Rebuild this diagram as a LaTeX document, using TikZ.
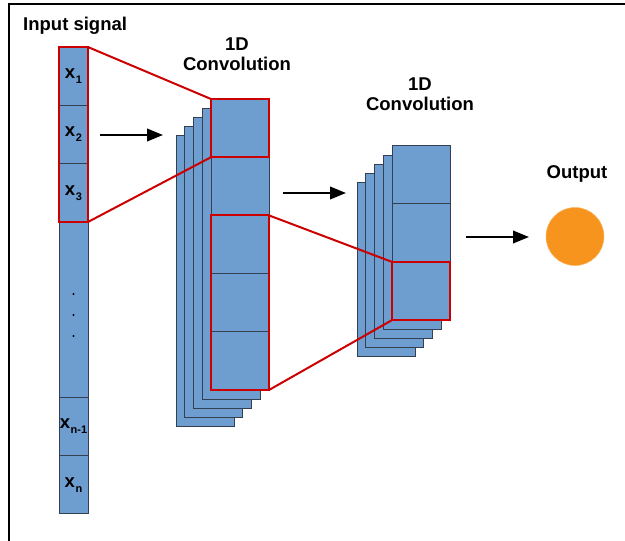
\documentclass[tikz,border=0pt]{standalone}
\usepackage{fontspec}
\setmainfont{Liberation Sans}
\usepackage{tikz}
\usetikzlibrary{arrows.meta}

\definecolor{cellblue}{RGB}{110,157,208}
\definecolor{celledge}{RGB}{52,64,82}
\definecolor{boxred}{RGB}{204,0,0}
\definecolor{outorange}{RGB}{247,148,29}

\newcommand{\xsub}[1]{x\kern0.6pt\raisebox{-5pt}{\fontsize{11}{11}\selectfont #1}}

\tikzset{
  cell/.style={draw=celledge, fill=cellblue, line width=1pt, inner sep=0pt, outer sep=0pt,
    font=\bfseries\fontsize{18.5}{18.5}\selectfont},
  incell/.style={cell, minimum width=29pt, minimum height=58.3pt},
  convcell/.style={cell, minimum width=58pt, minimum height=58.2pt},
  layer/.style={cell, minimum width=58pt},
  redbox/.style={draw=boxred, line width=2pt},
  redline/.style={boxred, line width=2pt},
  flow/.style={line width=2.2pt, -{Triangle[length=16pt, width=12.5pt]}},
  title/.style={font=\bfseries\fontsize{18.5}{20.5}\selectfont, align=center, inner sep=0pt},
  frame/.style={line width=1.6pt}
}

\begin{document}
\begin{tikzpicture}[x=1pt, y=-1pt]
\useasboundingbox (0,0) rectangle (625,541);
\draw[frame] (9,541) -- (9,4) -- (625,4);

\node[title, anchor=base west] (intitle) at (23,30) {Input signal};
\node[title] (c1title) at (237,54) {1D\\Convolution};
\node[title] (c2title) at (420,94) {1D\\Convolution};
\node[title, anchor=base] (outtitle) at (577,178) {Output};

% input signal
\node[incell] (in1) at (73.5,76.2) {\xsub{1}};
\node[incell] (in2) at (73.5,134.5) {\xsub{2}};
\node[incell] (in3) at (73.5,192.8) {\xsub{3}};
\node[incell, minimum height=175pt] (indots) at (73.5,309.5) {};
\node[incell] (in4) at (73.5,426.3) {\xsub{n-1}};
\node[incell] (in5) at (73.5,484.8) {\xsub{n}};
\foreach \y in {294,315,336}
  \fill (73.5,\y) circle (1.1pt);

% first convolution
\foreach \k in {4,3,2,1}
  \node[layer, minimum height=291pt] (c1back\k) at (240-8.7*\k,244.5+9*\k) {};
\node[convcell] (c1a) at (240,128.1) {};
\node[convcell] (c1b) at (240,186.3) {};
\node[convcell] (c1c) at (240,244.5) {};
\node[convcell] (c1d) at (240,302.7) {};
\node[convcell] (c1e) at (240,360.9) {};

% second convolution
\foreach \k in {4,3,2,1}
  \node[layer, minimum height=174pt] (c2back\k) at (421-8.7*\k,233+9*\k) {};
\node[convcell] (c2a) at (421,175) {};
\node[convcell] (c2b) at (421,233) {};
\node[convcell] (c2c) at (421,291) {};

% receptive fields
\draw[redline] (in1.north east) -- (c1a.north west);
\draw[redline] (in3.south east) -- (c1a.south west);
\draw[redline] (c1c.north east) -- (c2c.north west);
\draw[redline] (c1e.south east) -- (c2c.south west);
\draw[redbox] (in1.north west) rectangle (in3.south east);
\draw[redbox] (c1a.north west) rectangle (c1a.south east);
\draw[redbox] (c1c.north west) rectangle (c1e.south east);
\draw[redbox] (c2c.north west) rectangle (c2c.south east);

% output
\node[circle, fill=outorange, draw=outorange!70!white, line width=0.5pt, minimum size=58pt,
  inner sep=0pt] (out) at (575,236.5) {};

\coordinate (a1s) at (100,135);
\coordinate (a1e) at (163,135);
\coordinate (a2s) at (283,193);
\coordinate (a2e) at (346,193);
\coordinate (a3s) at (466,237);
\coordinate (a3e) at (529,237);
\draw[flow] (a1s) -- (a1e);
\draw[flow] (a2s) -- (a2e);
\draw[flow] (a3s) -- (a3e);
\end{tikzpicture}
\end{document}
